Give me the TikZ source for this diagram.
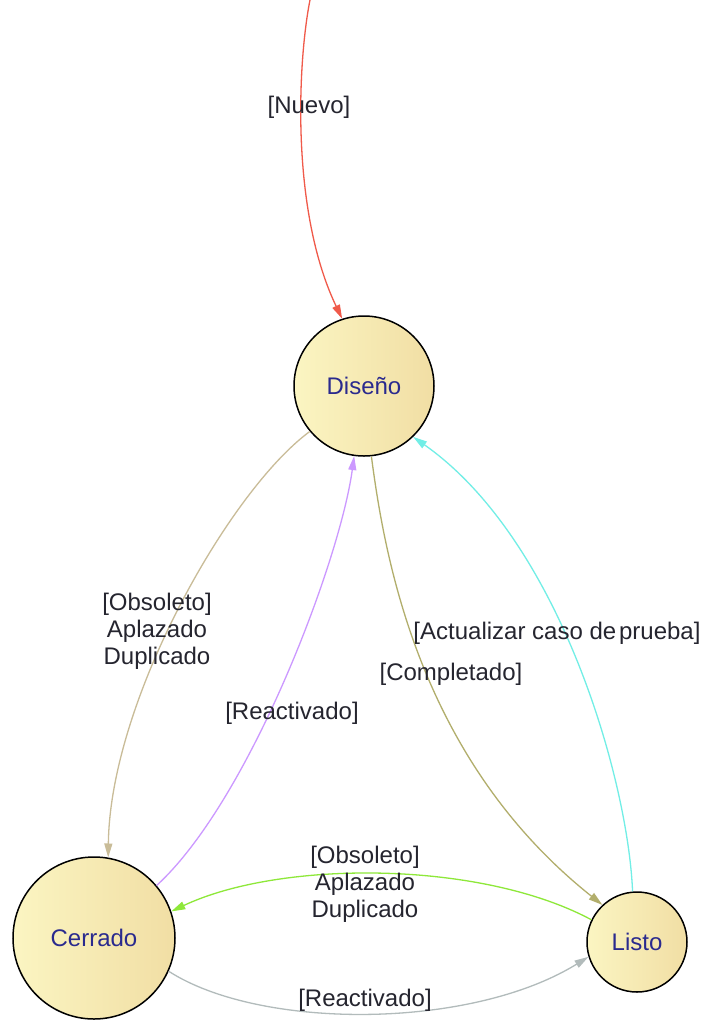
\documentclass[tikz,border=0pt]{standalone}
\usepackage{fontspec}
\setmainfont{Liberation Sans}
\usetikzlibrary{arrows.meta}

\definecolor{stateL}{HTML}{FBF5C2}
\definecolor{stateR}{HTML}{F1DEA4}
\definecolor{stateText}{HTML}{2A2A8E}
\definecolor{labelText}{HTML}{25252F}
\definecolor{cNuevo}{HTML}{F05A4A}
\definecolor{cObsA}{HTML}{C9BC98}
\definecolor{cReacA}{HTML}{CC99FF}
\definecolor{cComp}{HTML}{B2AE6C}
\definecolor{cAct}{HTML}{72EEE6}
\definecolor{cObsB}{HTML}{8EE83A}
\definecolor{cReacB}{HTML}{B2BBBB}

\begin{document}
\begin{tikzpicture}[x=1pt,y=-1pt,
  state/.style={circle, draw=black, line width=1.5pt,
    left color=stateL, right color=stateR, text=stateText,
    inner sep=0pt, font=\fontsize{24}{27}\selectfont},
  trans/.style={line width=1.3pt,
    -{Triangle[length=14pt,width=8pt]}},
  lbl/.style={text=labelText, align=center, inner sep=0pt,
    font=\fontsize{24}{27}\selectfont}]

\useasboundingbox[fill=white] (0,0) rectangle (701,1023);

% states
\node[state, minimum size=140pt] (dis) at (364,386) {Diseño};
\node[state, minimum size=162pt] (cer) at (94,938) {Cerrado};
\node[state, minimum size=100pt] (lis) at (637,942) {Listo};

\coordinate (src) at (310,0);

% transitions
\draw[trans, cNuevo] (src) .. controls (298,60) and (290,210) .. (dis.108);
\draw[trans, cObsA] (dis.220) .. controls (230,490) and (110,700) .. (cer.80);
\draw[trans, cReacA] (cer.40) .. controls (250,800) and (340,560) .. (dis.262);
\draw[trans, cComp] (dis.276) .. controls (385,560) and (420,760) .. (lis.133);
\draw[trans, cAct] (lis.95) .. controls (628,780) and (560,540) .. (dis.314);
\draw[trans, cObsB] (lis.154) .. controls (480,860) and (280,860) .. (cer.19);
\draw[trans, cReacB] (cer.336) .. controls (260,1030) and (470,1030) .. (lis.197);

% transition labels
\node[lbl] (lNuevo) at (309,107) {[Nuevo]};
\node[lbl] (lObsA) at (157,631) {[Obsoleto]\\Aplazado\\Duplicado};
\node[lbl] (lReacA) at (292,713) {[Reactivado]};
\node[lbl] (lComp) at (451,674) {[Completado]};
\node[lbl] (lAct) at (557,633) {[Actualizar caso de\hspace{0.12em}prueba]};
\node[lbl] (lObsB) at (365,884) {[Obsoleto]\\Aplazado\\Duplicado};
\node[lbl] (lReacB) at (365,1000) {[Reactivado]};
\end{tikzpicture}
\end{document}
